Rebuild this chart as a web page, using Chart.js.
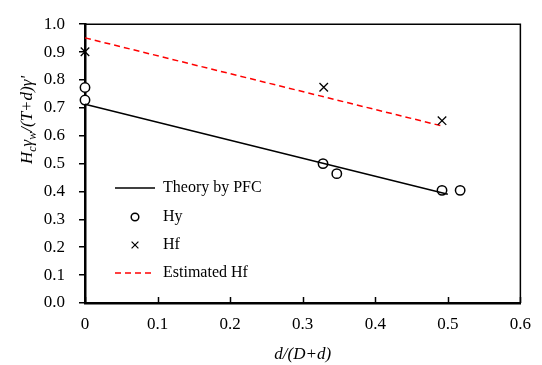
<!DOCTYPE html>
<html>
<head>
<meta charset="utf-8">
<script src="https://cdn.jsdelivr.net/npm/chart.js@4.4.1/dist/chart.umd.min.js"></script>
<style>
  html, body { margin: 0; padding: 0; background: #fff; }
  #wrap { width: 542px; height: 365px; }
</style>
</head>
<body>
<div id="wrap"><canvas id="chart" width="542" height="365"></canvas></div>
<script>
// ── Data ───────────────────────────────────────────────────
const hyX = [0, 0, 0.328, 0.347, 0.492, 0.517];
const hyY = [0.773, 0.728, 0.500, 0.464, 0.404, 0.404];

const hfX = [0, 0.329, 0.492];
const hfY = [0.901, 0.774, 0.654];

const theoryX = [0, 0.5];
const theoryY = [0.713, 0.39];

const estX = [0, 0.495];
const estY = [0.951, 0.633];

const xTicks = [0, 0.1, 0.2, 0.3, 0.4, 0.5, 0.6];
const yTicks = [0, 0.1, 0.2, 0.3, 0.4, 0.5, 0.6, 0.7, 0.8, 0.9, 1.0];

const pts = (xs, ys) => xs.map((x, i) => ({ x: x, y: ys[i] }));

const SERIF = "'Liberation Serif', 'Times New Roman', serif";

// ── Plugin: frame, inner x ticks, titles, legend ───────────
const decor = {
  id: 'decor',
  afterDraw(chart) {
    const { ctx, chartArea: a, scales } = chart;
    ctx.save();

    // top + right frame
    ctx.strokeStyle = '#000';
    ctx.lineWidth = 1.5;
    ctx.beginPath();
    ctx.moveTo(a.left, a.top);
    ctx.lineTo(a.right, a.top);
    ctx.lineTo(a.right, a.bottom);
    ctx.stroke();

    // x ticks pointing inward
    ctx.lineWidth = 1.5;
    xTicks.forEach(v => {
      const px = Math.round(scales.x.getPixelForValue(v)) + 0.5;
      ctx.beginPath();
      ctx.moveTo(px, a.bottom);
      ctx.lineTo(px, a.bottom - 6);
      ctx.stroke();
    });

    // x title
    ctx.fillStyle = '#000';
    ctx.font = 'italic 17px ' + SERIF;
    ctx.textAlign = 'center';
    ctx.textBaseline = 'middle';
    ctx.fillText('d/(D+d)', (a.left + a.right) / 2, 355);

    // y title with subscripts
    const parts = [
      { t: 'H', sub: false }, { t: 'c', sub: true },
      { t: 'γ', sub: false }, { t: 'w', sub: true },
      { t: "/(T+d)γ'", sub: false }
    ];
    const big = 'italic 17px ' + SERIF, small = 'italic 12px ' + SERIF;
    let total = 0;
    parts.forEach(p => { ctx.font = p.sub ? small : big; p.w = ctx.measureText(p.t).width; total += p.w; });
    ctx.translate(27, 120);
    ctx.rotate(-Math.PI / 2);
    ctx.textAlign = 'left';
    ctx.textBaseline = 'alphabetic';
    let cx = -total / 2;
    parts.forEach(p => {
      ctx.font = p.sub ? small : big;
      ctx.fillText(p.t, cx, p.sub ? 9 : 5);
      cx += p.w;
    });
    ctx.setTransform(1, 0, 0, 1, 0, 0);

    // legend
    const lx0 = a.left + 30, lx1 = a.left + 70, tx = a.left + 78;
    const rows = [188, 217, 245, 273];
    ctx.font = '16px ' + SERIF;
    ctx.textBaseline = 'middle';
    chart.data.datasets.forEach((ds, i) => {
      const y = rows[i];
      const mx = (lx0 + lx1) / 2;
      ctx.strokeStyle = ds.borderColor;
      ctx.lineWidth = 1.5;
      if (ds.showLine) {
        ctx.setLineDash(ds.borderDash || []);
        ctx.beginPath();
        ctx.moveTo(lx0, y);
        ctx.lineTo(lx1, y);
        ctx.stroke();
        ctx.setLineDash([]);
      } else if (ds.pointStyle === 'circle') {
        ctx.fillStyle = '#fff';
        ctx.beginPath();
        ctx.arc(mx, y, 3.8, 0, Math.PI * 2);
        ctx.fill();
        ctx.stroke();
      } else {
        const r = 3.4;
        ctx.lineWidth = 1.2;
        ctx.beginPath();
        ctx.moveTo(mx - r, y - r); ctx.lineTo(mx + r, y + r);
        ctx.moveTo(mx - r, y + r); ctx.lineTo(mx + r, y - r);
        ctx.stroke();
      }
      ctx.fillStyle = '#000';
      ctx.textAlign = 'left';
      ctx.fillText(ds.label, tx, y);
    });

    ctx.restore();
  }
};

// ── Chart ──────────────────────────────────────────────────
const ctx = document.getElementById('chart').getContext('2d');
new Chart(ctx, {
  type: 'scatter',
  data: {
    datasets: [
      {
        label: 'Theory by PFC',
        data: pts(theoryX, theoryY),
        showLine: true,
        borderColor: '#000',
        borderWidth: 1.5,
        pointRadius: 0,
        clip: false,
      },
      {
        label: 'Hy',
        data: pts(hyX, hyY),
        pointStyle: 'circle',
        pointRadius: 4.7,
        borderColor: '#000',
        backgroundColor: '#fff',
        borderWidth: 1.5,
        clip: false,
      },
      {
        label: 'Hf',
        data: pts(hfX, hfY),
        pointStyle: 'crossRot',
        pointRadius: 6,
        borderColor: '#000',
        borderWidth: 1.3,
        clip: false,
      },
      {
        label: 'Estimated Hf',
        data: pts(estX, estY),
        showLine: true,
        borderColor: '#ff0000',
        borderDash: [6, 4],
        borderWidth: 1.5,
        pointRadius: 0,
        clip: false,
      }
    ]
  },
  options: {
    responsive: false,
    animation: false,
    events: [],
    layout: { padding: { top: 16, right: 20, left: 0, bottom: 0 } },
    plugins: {
      legend: { display: false },
      tooltip: { enabled: false }
    },
    scales: {
      x: {
        type: 'linear',
        min: 0, max: 0.6,
        afterFit: s => { s.height = 62; },
        afterBuildTicks: s => { s.ticks = xTicks.map(v => ({ value: v })); },
        grid: { display: true, drawOnChartArea: false, drawTicks: false },
        border: { display: true, color: '#000', width: 2.5 },
        ticks: {
          padding: 11,
          color: '#000',
          font: { family: SERIF, size: 17 },
          callback: v => v === 0 ? '0' : v.toFixed(1)
        }
      },
      y: {
        type: 'linear',
        min: 0, max: 1.0,
        afterFit: s => { s.width = 85; },
        afterBuildTicks: s => { s.ticks = yTicks.map(v => ({ value: v })); },
        grid: { display: true, drawOnChartArea: false, drawTicks: true, tickLength: 6, color: '#000', lineWidth: 1.5 },
        border: { display: true, color: '#000', width: 2.5 },
        ticks: {
          padding: 14,
          color: '#000',
          font: { family: SERIF, size: 17 },
          callback: v => v.toFixed(1)
        }
      }
    }
  },
  plugins: [decor]
});
</script>
</body>
</html>
